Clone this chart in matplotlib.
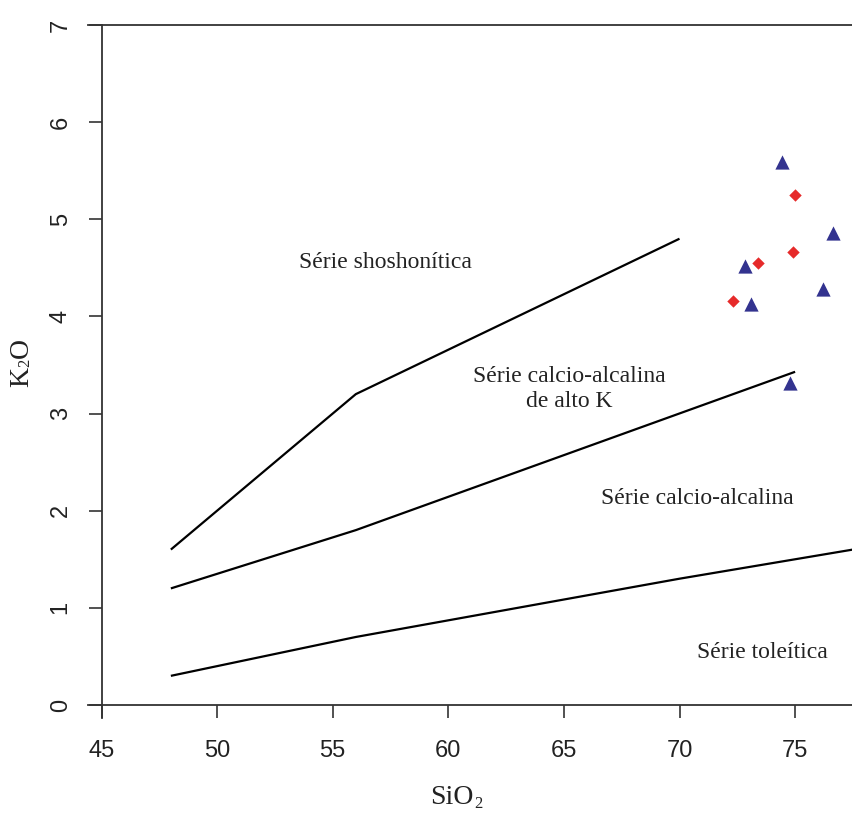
import matplotlib
matplotlib.use("Agg")
import matplotlib.pyplot as plt

# boundary lines (Peccerillo & Taylor style K2O vs SiO2)
shosh_x = [48, 56, 70]
shosh_y = [1.6, 3.2, 4.8]
highk_x = [48, 56, 75]
highk_y = [1.2, 1.8, 3.43]
thol_x = [48, 56, 70, 78]
thol_y = [0.3, 0.7, 1.3, 1.62]

# samples
tri_x = [74.42, 76.65, 72.83, 73.08, 76.22, 74.78]
tri_y = [5.59, 4.86, 4.52, 4.13, 4.28, 3.31]
dia_x = [75.0, 74.92, 73.41, 72.30]
dia_y = [5.25, 4.66, 4.55, 4.16]

xticks = [45, 50, 55, 60, 65, 70, 75]
yticks = [0, 1, 2, 3, 4, 5, 6, 7]

SERIF = "Liberation Serif"
SANS = "Liberation Sans"
TXT = "#222222"

fig = plt.figure(figsize=(8.53, 8.15), dpi=100)
ax = fig.add_axes([88 / 853, 1 - 718 / 815, (853 - 88) / 853, (718 - 25) / 815])
ax.set_xlim(44.416, 77.504)
ax.set_ylim(-0.134, 7.0)

for xs, ys in [(shosh_x, shosh_y), (highk_x, highk_y), (thol_x, thol_y)]:
    ax.plot(xs, ys, color="black", lw=1.6, solid_capstyle="butt")

ax.scatter(tri_x, tri_y, marker="^", s=105, color="#33338f", linewidths=0, zorder=3)
ax.scatter(dia_x, dia_y, marker="D", s=40, color="#e62a2a", linewidths=0, zorder=3)

tkw = dict(family=SERIF, fontsize=17, color=TXT, ha="center", va="baseline")
ax.text(57.26, 4.50, "Série shoshonítica", **tkw)
ax.text(65.22, 3.33, "Série calcio-alcalina", **tkw)
ax.text(65.22, 3.07, "de alto K", **tkw)
ax.text(70.75, 2.07, "Série calcio-alcalina", **tkw)
ax.text(73.57, 0.48, "Série toleítica", **tkw)

ax.spines["right"].set_visible(False)
ax.spines["bottom"].set_position(("data", 0))
ax.spines["left"].set_position(("data", 45))
for s in ["left", "bottom", "top"]:
    ax.spines[s].set_color("#333333")
    ax.spines[s].set_linewidth(1.3)

ax.set_xticks(xticks)
ax.set_yticks(yticks)
ax.tick_params(axis="both", direction="out", length=9.5, width=1.2, color="#333333",
               labelsize=17, labelcolor=TXT)
ax.tick_params(axis="x", pad=16)
ax.tick_params(axis="y", pad=12)
for lab in ax.get_xticklabels():
    lab.set_family(SANS)
for lab in ax.get_yticklabels():
    lab.set_family(SANS)
    lab.set_rotation(90)
    lab.set_va("center")

# axis titles with small subscripts, built piece by piece
fig.canvas.draw()
r = fig.canvas.get_renderer()
W, H = fig.bbox.width, fig.bbox.height

t = fig.text(452 / W, 1 - 804 / H, "SiO", family=SERIF, fontsize=20,
             ha="center", va="baseline", color=TXT)
bb = t.get_window_extent(r)
fig.text((bb.x1 + 1) / W, 1 - 808 / H, "2", family=SERIF, fontsize=12,
         ha="left", va="baseline", color=TXT)

rot = dict(family=SERIF, ha="left", va="bottom", rotation=90,
           rotation_mode="anchor", color=TXT)
t = fig.text(34 / W, 1 - 387 / H, "K", fontsize=20, **rot)
bb = t.get_window_extent(r)
sub = fig.text((bb.x1 - 1) / W, bb.y1 / H, "2", fontsize=12, **rot)
sb = sub.get_window_extent(r)
fig.text(34 / W, (sb.y1 + 1) / H, "O", fontsize=20, **rot)

fig.savefig("out.png", dpi=100)
